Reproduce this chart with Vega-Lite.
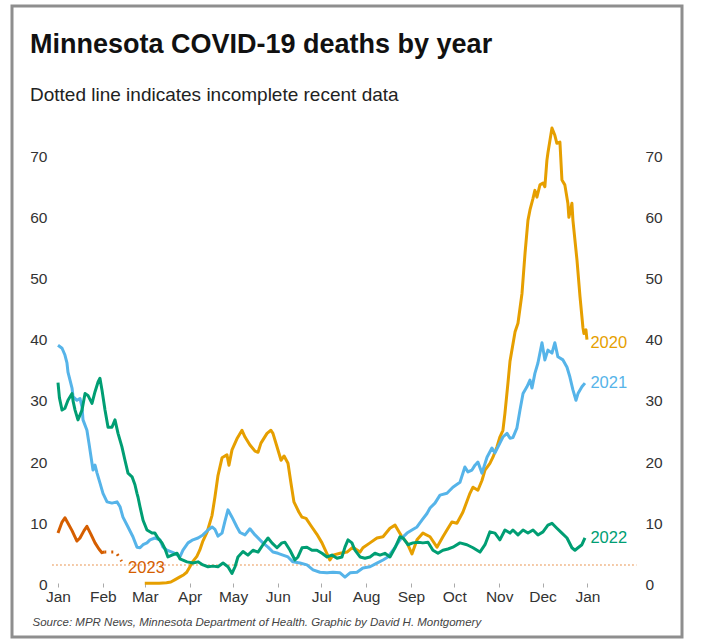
{
  "$schema": "https://vega.github.io/schema/vega-lite/v6.json",
  "width": 670,
  "height": 631,
  "autosize": {"type": "none"},
  "padding": {"left": 12, "top": 6, "right": 21, "bottom": 4},
  "background": "white",
  "config": {"view": {"stroke": "#8e8e8e", "strokeWidth": 3}, "font": "Liberation Sans"},
  "title": {
    "text": "Minnesota COVID-19 deaths by year",
    "subtitle": "Dotted line indicates incomplete recent data",
    "anchor": "start",
    "frame": "group",
    "orient": "top",
    "offset": -100,
    "dx": 18,
    "font": "Liberation Sans",
    "fontSize": 27,
    "fontWeight": "bold",
    "color": "#111111",
    "subtitleFont": "Liberation Sans",
    "subtitleFontSize": 19,
    "subtitleColor": "#222222",
    "subtitlePadding": 27
  },
  "datasets": {
    "ref": [{"d": -4, "d2": 400, "v": 3.2}],
    "labels": [
      {"yr": "2020", "d": 366, "v": 39.5, "t": "2020"},
      {"yr": "2021", "d": 366, "v": 32.9, "t": "2021"},
      {"yr": "2022", "d": 366, "v": 7.6, "t": "2022"},
      {"yr": "2023", "d": 46.4, "v": 2.7, "t": "2023"}
    ],
    "lines": [
      {"yr":"2020","seg":"a","d":60,"v":0.2},{"yr":"2020","seg":"a","d":65,"v":0.2},{"yr":"2020","seg":"a","d":70,"v":0.2},{"yr":"2020","seg":"a","d":75,"v":0.3},{"yr":"2020","seg":"a","d":78,"v":0.4},{"yr":"2020","seg":"a","d":81,"v":0.8},{"yr":"2020","seg":"a","d":84,"v":1.2},{"yr":"2020","seg":"a","d":87,"v":1.6},{"yr":"2020","seg":"a","d":89,"v":2.0},{"yr":"2020","seg":"a","d":91,"v":2.8},{"yr":"2020","seg":"a","d":93,"v":3.7},{"yr":"2020","seg":"a","d":96,"v":4.6},{"yr":"2020","seg":"a","d":98,"v":5.6},{"yr":"2020","seg":"a","d":100,"v":7.0},{"yr":"2020","seg":"a","d":103,"v":8.5},{"yr":"2020","seg":"a","d":106.5,"v":11.3},{"yr":"2020","seg":"a","d":108.5,"v":14.3},{"yr":"2020","seg":"a","d":110.6,"v":17.8},{"yr":"2020","seg":"a","d":113.4,"v":20.7},{"yr":"2020","seg":"a","d":116.8,"v":21.2},{"yr":"2020","seg":"a","d":118.2,"v":19.5},{"yr":"2020","seg":"a","d":120.3,"v":22.0},{"yr":"2020","seg":"a","d":123.7,"v":23.8},{"yr":"2020","seg":"a","d":127.2,"v":25.2},{"yr":"2020","seg":"a","d":129.3,"v":24.1},{"yr":"2020","seg":"a","d":132.7,"v":22.8},{"yr":"2020","seg":"a","d":136.2,"v":21.8},{"yr":"2020","seg":"a","d":138.3,"v":21.6},{"yr":"2020","seg":"a","d":140.3,"v":23.1},{"yr":"2020","seg":"a","d":144.5,"v":24.7},{"yr":"2020","seg":"a","d":147.2,"v":25.2},{"yr":"2020","seg":"a","d":148.6,"v":24.7},{"yr":"2020","seg":"a","d":151.4,"v":22.5},{"yr":"2020","seg":"a","d":154.2,"v":20.3},{"yr":"2020","seg":"a","d":156.3,"v":21.0},{"yr":"2020","seg":"a","d":159,"v":19.8},{"yr":"2020","seg":"a","d":161.1,"v":16.5},{"yr":"2020","seg":"a","d":163.1,"v":13.5},{"yr":"2020","seg":"a","d":166.6,"v":11.8},{"yr":"2020","seg":"a","d":168.7,"v":11.0},{"yr":"2020","seg":"a","d":171.5,"v":10.8},{"yr":"2020","seg":"a","d":174.9,"v":9.6},{"yr":"2020","seg":"a","d":179,"v":8.2},{"yr":"2020","seg":"a","d":182.5,"v":6.8},{"yr":"2020","seg":"a","d":186,"v":5.0},{"yr":"2020","seg":"a","d":188,"v":4.0},{"yr":"2020","seg":"a","d":190.1,"v":4.8},{"yr":"2020","seg":"a","d":195,"v":5.1},{"yr":"2020","seg":"a","d":199.8,"v":5.3},{"yr":"2020","seg":"a","d":203.9,"v":6.1},{"yr":"2020","seg":"a","d":208.8,"v":5.3},{"yr":"2020","seg":"a","d":210.8,"v":6.0},{"yr":"2020","seg":"a","d":215.7,"v":6.8},{"yr":"2020","seg":"a","d":220.5,"v":7.6},{"yr":"2020","seg":"a","d":224.7,"v":7.8},{"yr":"2020","seg":"a","d":229.5,"v":9.2},{"yr":"2020","seg":"a","d":233,"v":9.7},{"yr":"2020","seg":"a","d":235,"v":8.9},{"yr":"2020","seg":"a","d":237.8,"v":7.8},{"yr":"2020","seg":"a","d":241.3,"v":6.8},{"yr":"2020","seg":"a","d":244.7,"v":5.0},{"yr":"2020","seg":"a","d":248.2,"v":7.3},{"yr":"2020","seg":"a","d":252.3,"v":8.4},{"yr":"2020","seg":"a","d":257.2,"v":7.8},{"yr":"2020","seg":"a","d":262,"v":6.1},{"yr":"2020","seg":"a","d":266.1,"v":7.8},{"yr":"2020","seg":"a","d":268.9,"v":8.9},{"yr":"2020","seg":"a","d":272.3,"v":10.2},{"yr":"2020","seg":"a","d":275.8,"v":10.0},{"yr":"2020","seg":"a","d":279.9,"v":11.8},{"yr":"2020","seg":"a","d":284.8,"v":14.9},{"yr":"2020","seg":"a","d":286.9,"v":15.9},{"yr":"2020","seg":"a","d":290.3,"v":15.4},{"yr":"2020","seg":"a","d":293.1,"v":17.0},{"yr":"2020","seg":"a","d":295.2,"v":18.7},{"yr":"2020","seg":"a","d":298.6,"v":19.8},{"yr":"2020","seg":"a","d":300.7,"v":20.8},{"yr":"2020","seg":"a","d":303.5,"v":22.5},{"yr":"2020","seg":"a","d":305.5,"v":24.1},{"yr":"2020","seg":"a","d":307.6,"v":25.2},{"yr":"2020","seg":"a","d":309,"v":28.0},{"yr":"2020","seg":"a","d":311.1,"v":33.0},{"yr":"2020","seg":"a","d":312.5,"v":36.5},{"yr":"2020","seg":"a","d":316,"v":41.3},{"yr":"2020","seg":"a","d":318,"v":42.7},{"yr":"2020","seg":"a","d":320.8,"v":47.6},{"yr":"2020","seg":"a","d":322.9,"v":54.2},{"yr":"2020","seg":"a","d":324.9,"v":59.5},{"yr":"2020","seg":"a","d":326.3,"v":61.2},{"yr":"2020","seg":"a","d":328.4,"v":63.1},{"yr":"2020","seg":"a","d":329.7,"v":64.4},{"yr":"2020","seg":"a","d":331.1,"v":63.3},{"yr":"2020","seg":"a","d":333.2,"v":65.3},{"yr":"2020","seg":"a","d":335.3,"v":65.6},{"yr":"2020","seg":"a","d":336.6,"v":65.0},{"yr":"2020","seg":"a","d":338,"v":69.3},{"yr":"2020","seg":"a","d":338.7,"v":70.5},{"yr":"2020","seg":"a","d":341.5,"v":74.6},{"yr":"2020","seg":"a","d":343.5,"v":73.4},{"yr":"2020","seg":"a","d":344.9,"v":72.1},{"yr":"2020","seg":"a","d":347,"v":72.3},{"yr":"2020","seg":"a","d":348.4,"v":66.1},{"yr":"2020","seg":"a","d":350.4,"v":65.3},{"yr":"2020","seg":"a","d":352.5,"v":62.3},{"yr":"2020","seg":"a","d":353.2,"v":60.0},{"yr":"2020","seg":"a","d":355.3,"v":62.3},{"yr":"2020","seg":"a","d":356,"v":59.5},{"yr":"2020","seg":"a","d":358.8,"v":53.0},{"yr":"2020","seg":"a","d":360.9,"v":47.0},{"yr":"2020","seg":"a","d":362.9,"v":42.0},{"yr":"2020","seg":"a","d":363.6,"v":41.0},{"yr":"2020","seg":"a","d":365,"v":41.6},{"yr":"2020","seg":"a","d":365.7,"v":40.0},
      {"yr":"2021","seg":"a","d":0,"v":39.1},{"yr":"2021","seg":"a","d":2.8,"v":38.6},{"yr":"2021","seg":"a","d":4.8,"v":37.5},{"yr":"2021","seg":"a","d":6.2,"v":36.2},{"yr":"2021","seg":"a","d":6.9,"v":34.7},{"yr":"2021","seg":"a","d":8.3,"v":33.4},{"yr":"2021","seg":"a","d":9.7,"v":32.1},{"yr":"2021","seg":"a","d":10.4,"v":30.7},{"yr":"2021","seg":"a","d":13.1,"v":30.1},{"yr":"2021","seg":"a","d":15.2,"v":30.4},{"yr":"2021","seg":"a","d":16.6,"v":29.0},{"yr":"2021","seg":"a","d":17.3,"v":26.9},{"yr":"2021","seg":"a","d":20,"v":25.2},{"yr":"2021","seg":"a","d":21.4,"v":23.1},{"yr":"2021","seg":"a","d":23.5,"v":19.8},{"yr":"2021","seg":"a","d":24.2,"v":18.7},{"yr":"2021","seg":"a","d":25.6,"v":19.5},{"yr":"2021","seg":"a","d":27,"v":18.2},{"yr":"2021","seg":"a","d":29,"v":16.6},{"yr":"2021","seg":"a","d":31.1,"v":14.9},{"yr":"2021","seg":"a","d":33.9,"v":13.5},{"yr":"2021","seg":"a","d":37.3,"v":13.3},{"yr":"2021","seg":"a","d":40.8,"v":13.5},{"yr":"2021","seg":"a","d":42.9,"v":12.7},{"yr":"2021","seg":"a","d":44.9,"v":11.0},{"yr":"2021","seg":"a","d":48.4,"v":9.4},{"yr":"2021","seg":"a","d":51.8,"v":7.8},{"yr":"2021","seg":"a","d":54.6,"v":6.1},{"yr":"2021","seg":"a","d":56.7,"v":6.0},{"yr":"2021","seg":"a","d":58.8,"v":6.5},{"yr":"2021","seg":"a","d":61.5,"v":6.8},{"yr":"2021","seg":"a","d":63.6,"v":7.3},{"yr":"2021","seg":"a","d":67,"v":7.6},{"yr":"2021","seg":"a","d":70.5,"v":7.3},{"yr":"2021","seg":"a","d":72.6,"v":6.1},{"yr":"2021","seg":"a","d":75.3,"v":5.6},{"yr":"2021","seg":"a","d":78.8,"v":5.3},{"yr":"2021","seg":"a","d":80.9,"v":5.1},{"yr":"2021","seg":"a","d":84.3,"v":4.5},{"yr":"2021","seg":"a","d":86.4,"v":5.6},{"yr":"2021","seg":"a","d":89.9,"v":6.8},{"yr":"2021","seg":"a","d":93.3,"v":7.3},{"yr":"2021","seg":"a","d":96.8,"v":7.6},{"yr":"2021","seg":"a","d":100.2,"v":8.1},{"yr":"2021","seg":"a","d":103.7,"v":8.9},{"yr":"2021","seg":"a","d":106.5,"v":9.4},{"yr":"2021","seg":"a","d":108.5,"v":9.0},{"yr":"2021","seg":"a","d":110.6,"v":7.9},{"yr":"2021","seg":"a","d":113.4,"v":8.4},{"yr":"2021","seg":"a","d":115.4,"v":10.3},{"yr":"2021","seg":"a","d":117.5,"v":12.2},{"yr":"2021","seg":"a","d":120.3,"v":11.0},{"yr":"2021","seg":"a","d":123.7,"v":9.4},{"yr":"2021","seg":"a","d":125.8,"v":8.5},{"yr":"2021","seg":"a","d":129.3,"v":8.1},{"yr":"2021","seg":"a","d":132.7,"v":9.1},{"yr":"2021","seg":"a","d":136.2,"v":8.1},{"yr":"2021","seg":"a","d":139.6,"v":7.3},{"yr":"2021","seg":"a","d":141.7,"v":6.8},{"yr":"2021","seg":"a","d":145.2,"v":6.1},{"yr":"2021","seg":"a","d":148.6,"v":5.3},{"yr":"2021","seg":"a","d":152.1,"v":5.1},{"yr":"2021","seg":"a","d":155.5,"v":4.8},{"yr":"2021","seg":"a","d":159,"v":4.5},{"yr":"2021","seg":"a","d":162.4,"v":3.7},{"yr":"2021","seg":"a","d":167.3,"v":3.5},{"yr":"2021","seg":"a","d":172.1,"v":3.2},{"yr":"2021","seg":"a","d":176.3,"v":2.4},{"yr":"2021","seg":"a","d":181.1,"v":2.0},{"yr":"2021","seg":"a","d":186,"v":1.9},{"yr":"2021","seg":"a","d":190.1,"v":2.0},{"yr":"2021","seg":"a","d":195,"v":1.9},{"yr":"2021","seg":"a","d":198.4,"v":1.2},{"yr":"2021","seg":"a","d":201.9,"v":1.9},{"yr":"2021","seg":"a","d":206.7,"v":2.0},{"yr":"2021","seg":"a","d":210.8,"v":2.7},{"yr":"2021","seg":"a","d":215.7,"v":2.9},{"yr":"2021","seg":"a","d":220.5,"v":3.5},{"yr":"2021","seg":"a","d":224.7,"v":4.0},{"yr":"2021","seg":"a","d":228.1,"v":4.5},{"yr":"2021","seg":"a","d":231.6,"v":5.6},{"yr":"2021","seg":"a","d":236.4,"v":7.3},{"yr":"2021","seg":"a","d":241.3,"v":8.4},{"yr":"2021","seg":"a","d":244.7,"v":8.9},{"yr":"2021","seg":"a","d":248.2,"v":9.4},{"yr":"2021","seg":"a","d":251.6,"v":10.5},{"yr":"2021","seg":"a","d":255.1,"v":11.6},{"yr":"2021","seg":"a","d":257.2,"v":12.5},{"yr":"2021","seg":"a","d":260.6,"v":13.3},{"yr":"2021","seg":"a","d":264.1,"v":14.6},{"yr":"2021","seg":"a","d":268.9,"v":14.9},{"yr":"2021","seg":"a","d":273,"v":15.9},{"yr":"2021","seg":"a","d":277.9,"v":16.7},{"yr":"2021","seg":"a","d":281.3,"v":19.2},{"yr":"2021","seg":"a","d":283.4,"v":18.4},{"yr":"2021","seg":"a","d":286.2,"v":18.7},{"yr":"2021","seg":"a","d":288.3,"v":19.5},{"yr":"2021","seg":"a","d":290.3,"v":20.0},{"yr":"2021","seg":"a","d":293.1,"v":18.2},{"yr":"2021","seg":"a","d":296.6,"v":20.8},{"yr":"2021","seg":"a","d":300,"v":22.3},{"yr":"2021","seg":"a","d":302.1,"v":21.5},{"yr":"2021","seg":"a","d":305.5,"v":23.1},{"yr":"2021","seg":"a","d":307.6,"v":24.1},{"yr":"2021","seg":"a","d":310.4,"v":24.7},{"yr":"2021","seg":"a","d":312.5,"v":23.9},{"yr":"2021","seg":"a","d":314.5,"v":24.0},{"yr":"2021","seg":"a","d":317.3,"v":25.6},{"yr":"2021","seg":"a","d":319.4,"v":28.5},{"yr":"2021","seg":"a","d":321.5,"v":31.2},{"yr":"2021","seg":"a","d":324.2,"v":32.3},{"yr":"2021","seg":"a","d":326.3,"v":33.4},{"yr":"2021","seg":"a","d":327.7,"v":32.1},{"yr":"2021","seg":"a","d":329.7,"v":34.5},{"yr":"2021","seg":"a","d":331.8,"v":36.2},{"yr":"2021","seg":"a","d":334.6,"v":39.5},{"yr":"2021","seg":"a","d":336.6,"v":36.7},{"yr":"2021","seg":"a","d":338.7,"v":38.3},{"yr":"2021","seg":"a","d":341.5,"v":37.8},{"yr":"2021","seg":"a","d":343.5,"v":39.5},{"yr":"2021","seg":"a","d":345.6,"v":37.2},{"yr":"2021","seg":"a","d":349.1,"v":36.7},{"yr":"2021","seg":"a","d":351.9,"v":35.5},{"yr":"2021","seg":"a","d":353.9,"v":33.9},{"yr":"2021","seg":"a","d":356,"v":31.8},{"yr":"2021","seg":"a","d":358.1,"v":30.1},{"yr":"2021","seg":"a","d":359.5,"v":31.2},{"yr":"2021","seg":"a","d":362.2,"v":32.3},{"yr":"2021","seg":"a","d":364.3,"v":32.9},
      {"yr":"2022","seg":"a","d":0,"v":33.0},{"yr":"2022","seg":"a","d":1,"v":30.5},{"yr":"2022","seg":"a","d":2.8,"v":28.5},{"yr":"2022","seg":"a","d":4.8,"v":28.8},{"yr":"2022","seg":"a","d":6.9,"v":30.1},{"yr":"2022","seg":"a","d":9.7,"v":31.2},{"yr":"2022","seg":"a","d":10.4,"v":30.0},{"yr":"2022","seg":"a","d":11.8,"v":28.5},{"yr":"2022","seg":"a","d":13.8,"v":26.9},{"yr":"2022","seg":"a","d":16.6,"v":28.5},{"yr":"2022","seg":"a","d":18.7,"v":31.2},{"yr":"2022","seg":"a","d":20.7,"v":30.9},{"yr":"2022","seg":"a","d":23.5,"v":29.6},{"yr":"2022","seg":"a","d":25.6,"v":31.5},{"yr":"2022","seg":"a","d":27.7,"v":33.1},{"yr":"2022","seg":"a","d":29,"v":33.7},{"yr":"2022","seg":"a","d":30.4,"v":31.8},{"yr":"2022","seg":"a","d":32.5,"v":28.5},{"yr":"2022","seg":"a","d":34.6,"v":25.7},{"yr":"2022","seg":"a","d":37.3,"v":25.7},{"yr":"2022","seg":"a","d":39.4,"v":26.9},{"yr":"2022","seg":"a","d":41.5,"v":24.7},{"yr":"2022","seg":"a","d":44.2,"v":22.5},{"yr":"2022","seg":"a","d":46.3,"v":20.3},{"yr":"2022","seg":"a","d":48.4,"v":18.2},{"yr":"2022","seg":"a","d":51.2,"v":17.6},{"yr":"2022","seg":"a","d":53.2,"v":16.3},{"yr":"2022","seg":"a","d":54.6,"v":14.9},{"yr":"2022","seg":"a","d":55.3,"v":14.3},{"yr":"2022","seg":"a","d":56.7,"v":12.7},{"yr":"2022","seg":"a","d":58.8,"v":10.5},{"yr":"2022","seg":"a","d":61.5,"v":8.9},{"yr":"2022","seg":"a","d":65,"v":8.4},{"yr":"2022","seg":"a","d":67,"v":8.4},{"yr":"2022","seg":"a","d":69.1,"v":7.6},{"yr":"2022","seg":"a","d":71.9,"v":6.8},{"yr":"2022","seg":"a","d":74,"v":5.8},{"yr":"2022","seg":"a","d":76,"v":4.5},{"yr":"2022","seg":"a","d":78.8,"v":4.8},{"yr":"2022","seg":"a","d":82.3,"v":5.1},{"yr":"2022","seg":"a","d":84.3,"v":4.2},{"yr":"2022","seg":"a","d":89.2,"v":3.7},{"yr":"2022","seg":"a","d":93.3,"v":3.5},{"yr":"2022","seg":"a","d":96.8,"v":3.7},{"yr":"2022","seg":"a","d":100.2,"v":3.2},{"yr":"2022","seg":"a","d":103.7,"v":2.9},{"yr":"2022","seg":"a","d":107.1,"v":3.0},{"yr":"2022","seg":"a","d":110.6,"v":2.9},{"yr":"2022","seg":"a","d":114.1,"v":3.5},{"yr":"2022","seg":"a","d":117.5,"v":2.9},{"yr":"2022","seg":"a","d":120.3,"v":1.8},{"yr":"2022","seg":"a","d":122.4,"v":2.9},{"yr":"2022","seg":"a","d":124.4,"v":4.5},{"yr":"2022","seg":"a","d":127.9,"v":5.4},{"yr":"2022","seg":"a","d":131.3,"v":4.8},{"yr":"2022","seg":"a","d":134.8,"v":5.6},{"yr":"2022","seg":"a","d":138.3,"v":5.3},{"yr":"2022","seg":"a","d":141.7,"v":6.5},{"yr":"2022","seg":"a","d":145.2,"v":7.6},{"yr":"2022","seg":"a","d":147.9,"v":6.8},{"yr":"2022","seg":"a","d":151.4,"v":6.0},{"yr":"2022","seg":"a","d":154.8,"v":6.8},{"yr":"2022","seg":"a","d":156.9,"v":6.9},{"yr":"2022","seg":"a","d":160.4,"v":5.6},{"yr":"2022","seg":"a","d":163.8,"v":4.0},{"yr":"2022","seg":"a","d":165.9,"v":4.5},{"yr":"2022","seg":"a","d":168.7,"v":6.0},{"yr":"2022","seg":"a","d":172.1,"v":6.1},{"yr":"2022","seg":"a","d":175.6,"v":5.6},{"yr":"2022","seg":"a","d":179,"v":5.6},{"yr":"2022","seg":"a","d":182.5,"v":5.1},{"yr":"2022","seg":"a","d":186,"v":4.5},{"yr":"2022","seg":"a","d":189.4,"v":4.8},{"yr":"2022","seg":"a","d":192.9,"v":4.3},{"yr":"2022","seg":"a","d":196.3,"v":4.5},{"yr":"2022","seg":"a","d":198.4,"v":6.1},{"yr":"2022","seg":"a","d":200.5,"v":7.3},{"yr":"2022","seg":"a","d":203.2,"v":6.8},{"yr":"2022","seg":"a","d":205.3,"v":5.6},{"yr":"2022","seg":"a","d":208.8,"v":4.5},{"yr":"2022","seg":"a","d":212.2,"v":4.3},{"yr":"2022","seg":"a","d":215.7,"v":4.5},{"yr":"2022","seg":"a","d":219.1,"v":5.1},{"yr":"2022","seg":"a","d":222.6,"v":4.8},{"yr":"2022","seg":"a","d":226,"v":5.1},{"yr":"2022","seg":"a","d":229.5,"v":4.5},{"yr":"2022","seg":"a","d":233,"v":6.0},{"yr":"2022","seg":"a","d":236.4,"v":7.8},{"yr":"2022","seg":"a","d":238.5,"v":7.6},{"yr":"2022","seg":"a","d":241.9,"v":6.5},{"yr":"2022","seg":"a","d":245.4,"v":6.8},{"yr":"2022","seg":"a","d":248.9,"v":6.9},{"yr":"2022","seg":"a","d":252.3,"v":6.8},{"yr":"2022","seg":"a","d":255.8,"v":6.9},{"yr":"2022","seg":"a","d":259.2,"v":5.6},{"yr":"2022","seg":"a","d":262.7,"v":5.1},{"yr":"2022","seg":"a","d":266.1,"v":5.6},{"yr":"2022","seg":"a","d":269.6,"v":5.8},{"yr":"2022","seg":"a","d":273,"v":6.1},{"yr":"2022","seg":"a","d":277.9,"v":6.8},{"yr":"2022","seg":"a","d":282.7,"v":6.5},{"yr":"2022","seg":"a","d":286.9,"v":6.0},{"yr":"2022","seg":"a","d":291.7,"v":5.3},{"yr":"2022","seg":"a","d":295.2,"v":6.5},{"yr":"2022","seg":"a","d":298.6,"v":8.6},{"yr":"2022","seg":"a","d":302.1,"v":8.4},{"yr":"2022","seg":"a","d":305.5,"v":7.3},{"yr":"2022","seg":"a","d":309,"v":8.9},{"yr":"2022","seg":"a","d":312.5,"v":8.4},{"yr":"2022","seg":"a","d":314.5,"v":8.9},{"yr":"2022","seg":"a","d":318,"v":8.1},{"yr":"2022","seg":"a","d":321.5,"v":8.9},{"yr":"2022","seg":"a","d":324.9,"v":8.4},{"yr":"2022","seg":"a","d":328.4,"v":8.9},{"yr":"2022","seg":"a","d":331.8,"v":8.1},{"yr":"2022","seg":"a","d":335.3,"v":8.6},{"yr":"2022","seg":"a","d":338.7,"v":9.7},{"yr":"2022","seg":"a","d":341.5,"v":10.0},{"yr":"2022","seg":"a","d":344.9,"v":9.2},{"yr":"2022","seg":"a","d":348.4,"v":8.4},{"yr":"2022","seg":"a","d":351.9,"v":7.6},{"yr":"2022","seg":"a","d":355.3,"v":6.0},{"yr":"2022","seg":"a","d":357.4,"v":5.6},{"yr":"2022","seg":"a","d":359.5,"v":6.0},{"yr":"2022","seg":"a","d":362.2,"v":6.5},{"yr":"2022","seg":"a","d":364.3,"v":7.6},
      {"yr":"2023","seg":"a","d":0,"v":8.4},{"yr":"2023","seg":"a","d":2.8,"v":10.2},{"yr":"2023","seg":"a","d":4.8,"v":10.9},{"yr":"2023","seg":"a","d":6.9,"v":10.0},{"yr":"2023","seg":"a","d":9.7,"v":8.8},{"yr":"2023","seg":"a","d":13.1,"v":7.1},{"yr":"2023","seg":"a","d":15.2,"v":7.6},{"yr":"2023","seg":"a","d":18,"v":8.8},{"yr":"2023","seg":"a","d":20,"v":9.5},{"yr":"2023","seg":"a","d":22.8,"v":8.2},{"yr":"2023","seg":"a","d":25.6,"v":6.8},{"yr":"2023","seg":"a","d":28.3,"v":5.8},{"yr":"2023","seg":"a","d":30.4,"v":5.2},{"yr":"2023","seg":"a","d":32,"v":5.3},
      {"yr":"2023","seg":"tail","d":32,"v":5.3},{"yr":"2023","seg":"tail","d":40,"v":5.3},{"yr":"2023","seg":"tail","d":44,"v":3.8}
    ]
  },
  "encoding": {
    "x": {
      "field": "d",
      "type": "quantitative",
      "scale": {"domain": [-31.8, 431.4], "nice": false, "zero": false},
      "axis": {
        "orient": "bottom",
        "offset": -54,
        "values": [0, 31, 60, 91, 121, 152, 182, 213, 244, 274, 305, 335, 366],
        "labelExpr": "['Jan','Feb','Mar','Apr','May','Jun','Jul','Aug','Sep','Oct','Nov','Dec','Jan'][indexof([0,31,60,91,121,152,182,213,244,274,305,335,366], datum.value)]",
        "domain": false,
        "grid": false,
        "ticks": true,
        "tickSize": 4,
        "tickColor": "#aaaaaa",
        "labelFont": "Liberation Sans",
        "labelFontSize": 15.5,
        "labelColor": "#333333",
        "labelPadding": 2,
        "labelFlush": false,
        "labelOverlap": false,
        "title": "Source: MPR News, Minnesota Department of Health. Graphic by David H. Montgomery",
        "titleFont": "Liberation Sans",
        "titleFontSize": 11.5,
        "titleFontStyle": "italic",
        "titleFontWeight": "normal",
        "titleColor": "#444444",
        "titleAnchor": "start",
        "titleAlign": "left",
        "titleBaseline": "middle",
        "titleX": 20,
        "titleY": 39
      }
    },
    "y": {
      "field": "v",
      "type": "quantitative",
      "scale": {"domain": [-8.58, 94.53], "nice": false, "zero": false},
      "axis": null
    }
  },
  "resolve": {"axis": {"y": "independent"}},
  "layer": [
    {
      "data": {"name": "ref"},
      "mark": {"type": "rule", "strokeDash": [1.5, 2.5], "strokeWidth": 1.5, "color": "#eda56b"},
      "encoding": {
        "x2": {"field": "d2"},
        "y": {
          "field": "v", "type": "quantitative",
          "scale": {"domain": [-8.58, 94.53], "nice": false, "zero": false},
          "axis": {
            "orient": "left", "offset": -37, "values": [0, 10, 20, 30, 40, 50, 60, 70],
            "domain": false, "grid": false, "ticks": false, "tickSize": 0, "labelPadding": 2,
            "labelFont": "Liberation Sans", "labelFontSize": 15.5, "labelColor": "#333333", "title": null
          }
        }
      }
    },
    {
      "data": {"name": "lines"},
      "transform": [{"filter": "datum.seg == 'a'"}],
      "mark": {"type": "line", "strokeWidth": 3, "strokeJoin": "round"},
      "encoding": {
        "y": {
          "field": "v", "type": "quantitative",
          "scale": {"domain": [-8.58, 94.53], "nice": false, "zero": false},
          "axis": {
            "orient": "right", "offset": -37, "values": [0, 10, 20, 30, 40, 50, 60, 70],
            "domain": false, "grid": false, "ticks": false, "tickSize": 0, "labelPadding": 0,
            "labelFont": "Liberation Sans", "labelFontSize": 15.5, "labelColor": "#333333", "title": null
          }
        },
        "color": {
          "field": "yr", "type": "nominal",
          "scale": {"domain": ["2020", "2021", "2022", "2023"], "range": ["#E69F00", "#56B4E9", "#009E73", "#D55E00"]},
          "legend": null
        }
      }
    },
    {
      "data": {"name": "lines"},
      "transform": [{"filter": "datum.seg == 'tail'"}],
      "mark": {"type": "line", "strokeWidth": 3, "strokeDash": [2, 5], "color": "#D55E00"},
      "encoding": {}
    },
    {
      "data": {"name": "labels"},
      "mark": {"type": "text", "align": "left", "baseline": "middle", "dx": 3, "font": "Liberation Sans", "fontSize": 16.5},
      "encoding": {
        "text": {"field": "t"},
        "color": {"field": "yr", "type": "nominal", "legend": null}
      }
    }
  ]
}
